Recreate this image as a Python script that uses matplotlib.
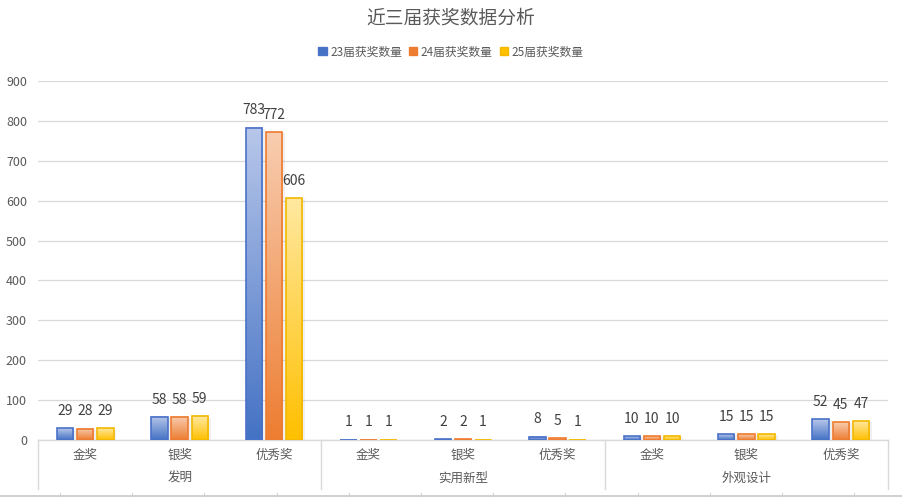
import numpy as np
import matplotlib
matplotlib.use("Agg")
from matplotlib import pyplot as plt
from matplotlib.colors import LinearSegmentedColormap
from matplotlib.patches import Patch
from matplotlib.lines import Line2D

plt.rcParams['font.family'] = ['Noto Sans CJK SC', 'DejaVu Sans']

groups = ["发明", "实用新型", "外观设计"]
awards = ["金奖", "银奖", "优秀奖"]
series_names = ["23届获奖数量", "24届获奖数量", "25届获奖数量"]
s23 = [29, 58, 783, 1, 2, 8, 10, 15, 52]
s24 = [28, 58, 772, 1, 2, 5, 10, 15, 45]
s25 = [29, 59, 606, 1, 1, 1, 10, 15, 47]
yticks = [0, 100, 200, 300, 400, 500, 600, 700, 800, 900]

dark = ["#4472C4", "#ED7D31", "#FFC000"]
light = ["#B8C7EA", "#F8CDB0", "#FFE8A0"]
edges = ["#4A72C8", "#EE7B30", "#F2B800"]
text_c = "#595959"

fig = plt.figure(figsize=(9.02, 4.98), dpi=100)
ax = fig.add_axes([38 / 902, 1 - 440 / 498, 850 / 902, 359 / 498])

n = len(s23)
centers = np.arange(n) + 0.5
width = 0.175
offsets = [-0.213, 0, 0.213]
grad = np.linspace(0, 1, 256).reshape(-1, 1)

for k, vals in enumerate([s23, s24, s25]):
    cmap = LinearSegmentedColormap.from_list("g%d" % k, [dark[k], light[k]])
    for i, v in enumerate(vals):
        x0 = centers[i] + offsets[k] - width / 2
        # soft shadow
        ax.bar(x0 + width / 2 + 0.03, v, width, bottom=-3, color="#000000",
               alpha=0.06, linewidth=0, zorder=2)
        ax.imshow(grad, extent=[x0, x0 + width, 0, v], origin="lower",
                  aspect="auto", cmap=cmap, zorder=3, interpolation="bilinear")
        ax.bar(x0 + width / 2, v, width, facecolor="none", edgecolor=edges[k],
               linewidth=1.2, zorder=4)
        ax.annotate(str(v), (x0 + width / 2, v), xytext=(0, 12.5),
                    textcoords="offset points", ha="center", va="center",
                    fontsize=10, color="#404040", zorder=5)

ax.set_xlim(0, n)
ax.set_ylim(0, 900)
ax.set_yticks(yticks)
ax.tick_params(axis="y", length=0, labelsize=9, labelcolor=text_c, pad=8)
ax.set_xticks([])
ax.grid(axis="y", color="#D9D9D9", linewidth=0.9, zorder=0)
ax.set_axisbelow(True)
for s in ["top", "right", "left"]:
    ax.spines[s].set_visible(False)
ax.spines["bottom"].set_color("#D9D9D9")
ax.spines["bottom"].set_linewidth(1.0)

# two-level category axis
trans = ax.get_xaxis_transform()
for i in range(n):
    ax.text(centers[i], -15 / 359, awards[i % 3], transform=trans,
            ha="center", va="center", fontsize=9, color=text_c)
for g, name in enumerate(groups):
    ax.text(g * 3 + 1.5, -38 / 359, name, transform=trans,
            ha="center", va="center", fontsize=9, color=text_c)
for b in [0, 3, 6, 9]:
    ax.plot([b, b], [0, -49 / 359], transform=trans, color="#D9D9D9",
            linewidth=1.0, clip_on=False)

# sheet grid line under the chart
fig.add_artist(Line2D([0, 1], [2 / 498, 2 / 498], color="#C8C8C8", linewidth=1.2))
for px in np.arange(60, 902, 72.2):
    fig.add_artist(Line2D([px / 902, px / 902], [2 / 498, 5 / 498],
                          color="#D0D0D0", linewidth=0.8))

fig.text(0.5, 1 - 18 / 498, "近三届获奖数据分析", ha="center", va="center",
         fontsize=13.5, color=text_c)

handles = [Patch(facecolor=dark[k], edgecolor=edges[k], label=series_names[k])
           for k in range(3)]
fig.legend(handles=handles, loc="center", bbox_to_anchor=(0.5, 1 - 52 / 498),
           ncol=3, frameon=False, fontsize=8.5, labelcolor=text_c,
           handlelength=0.7, handleheight=0.7, handletextpad=0.3,
           columnspacing=0.6)

fig.savefig("out.png", dpi=100)
